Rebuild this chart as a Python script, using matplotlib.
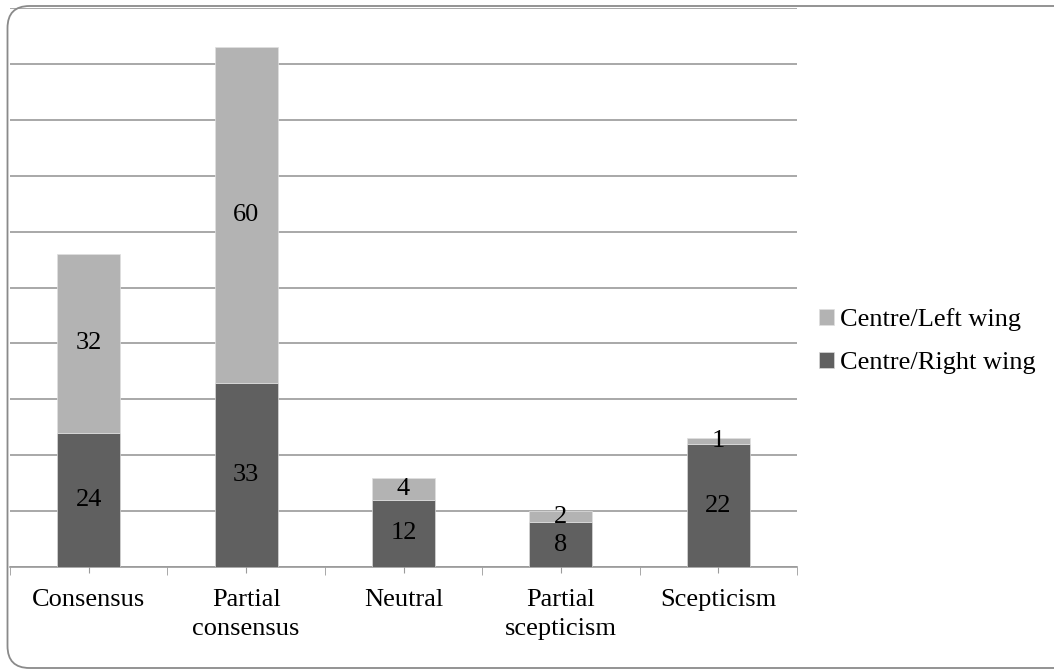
import numpy as np
import matplotlib.pyplot as plt
from matplotlib.patches import FancyBboxPatch

plt.rcParams['font.family'] = ['Liberation Serif', 'DejaVu Serif']

# Data
categories = ['Consensus', 'Partial\nconsensus', 'Neutral', 'Partial\nscepticism', 'Scepticism']
right_wing = [24, 33, 12, 8, 22]
left_wing = [32, 60, 4, 2, 1]

dark = '#606060'
light = '#b3b3b3'
grey = '#9a9a9a'

fig = plt.figure(figsize=(10.54, 6.69), dpi=100)
ax = fig.add_axes([10 / 1054, 102 / 669, 787 / 1054, 559 / 669])

x = np.arange(len(categories))
b1 = ax.bar(x, right_wing, width=0.4, color=dark, edgecolor='#d8d8d8', lw=0.5,
            label='Centre/Right wing', zorder=3)
b2 = ax.bar(x, left_wing, width=0.4, bottom=right_wing, color=light, edgecolor='#e0e0e0',
            lw=0.5, label='Centre/Left wing', zorder=3)

ax.bar_label(b1, labels=[str(v) for v in right_wing], label_type='center', fontsize=19)
ax.bar_label(b2, labels=[str(v) for v in left_wing], label_type='center', fontsize=19)

ax.set_xlim(-0.5, len(categories) - 0.5)
ax.set_ylim(0, 100)
ax.set_yticks(np.arange(0, 101, 10))
ax.yaxis.grid(True, color=grey, lw=1.2, zorder=0)
ax.tick_params(axis='y', left=False, labelleft=False)

ax.set_xticks(x)
ax.set_xticklabels(categories, fontsize=19, linespacing=1.45)
ax.set_xticks(np.arange(-0.5, len(categories)), minor=True)
ax.tick_params(axis='x', which='major', direction='inout', length=9, color=grey, pad=11)
ax.tick_params(axis='x', which='minor', direction='out', length=6, color=grey)

for s in ['top', 'right', 'left']:
    ax.spines[s].set_visible(False)
ax.spines['bottom'].set_color(grey)
ax.spines['bottom'].set_linewidth(1.2)

# legend order: left wing on top
handles = [b2, b1]
ax.legend(handles, [h.get_label() for h in handles], loc='center left',
          bbox_to_anchor=(0.998, 0.404), frameon=False, fontsize=19,
          handlelength=0.55, handleheight=0.55, handletextpad=0.25, labelspacing=0.8)

# rounded outer frame
frame = FancyBboxPatch((0.075, 0.01), 10.7, 6.62, boxstyle='round,pad=0,rounding_size=0.22',
                       transform=fig.dpi_scale_trans, fill=False, edgecolor='#8a8a8a', lw=1.3)
fig.patches.append(frame)

plt.savefig('out.png', dpi=100)
